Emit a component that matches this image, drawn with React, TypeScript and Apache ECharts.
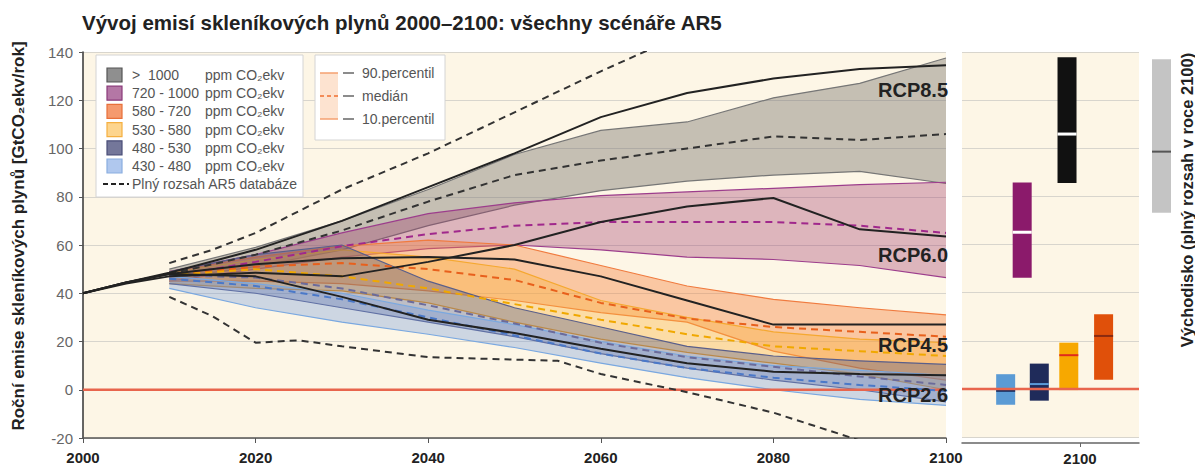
import React, { useEffect, useRef } from "react";
import * as echarts from "echarts";

// ---------- DATA ----------
const years = [2010, 2020, 2030, 2040, 2050, 2060, 2070, 2080, 2090, 2100];

const catNames = [">  1000", "720 - 1000", "580 - 720", "530 - 580", "480 - 530", "430 - 480"];
// 90th percentile
const upGray = [50, 59, 70, 83, 97.5, 107.5, 111, 121, 127, 137.5];
const upPurple = [49, 56, 65, 73, 77.5, 80.5, 82, 83.5, 85, 86];
const upOrange = [49, 55, 59.5, 62, 60, 51.5, 43, 37.5, 34, 31];
const upYellow = [48.5, 54, 58, 55, 50, 37, 30, 24, 21, 19.5];
const upNavy = [49, 56, 60, 45, 34, 26, 18, 14, 12, 10.5];
const upBlue = [47, 44, 40, 33, 27, 20, 14, 10, 8, 6];
// 10th percentile
const loGray = [46, 51, 58, 68, 76.5, 82.5, 86.5, 89, 90.5, 85.5];
const loPurple = [45, 50, 55, 58.5, 60, 58, 55, 54, 51.5, 46.5];
const loOrange = [45, 45, 44, 41, 37, 32, 28, 16, 9, 4];
const loYellow = [44, 42, 41, 36, 28, 21, 15.5, 11, 6.5, 0];
const loNavy = [44, 40, 34, 28, 22, 15, 9, 4, 0, -5];
const loBlue = [42, 34, 28, 23, 17.5, 11, 5, 0, -4, -6.5];
// median
const mdGray = [48, 56, 66, 78, 89, 95, 100, 105, 103.5, 106];
const mdPurple = [47, 53, 59.5, 64.5, 68, 69.5, 69.5, 69.5, 68, 65];
const mdOrange = [47.5, 51, 52.5, 50, 45.5, 36, 29.5, 26, 24, 22];
const mdYellow = [47.5, 50, 47, 42, 35.5, 29, 23, 18, 16, 14];
const mdNavy = [47.5, 46.5, 42, 35, 27.5, 19.5, 13.5, 9.5, 5.5, 2];
const mdBlue = [46, 43, 37.5, 30, 22.5, 15, 9, 5, 2, -0.5];

// RCP pathways
const rcpYears = [2000, 2005, 2010, 2020, 2030, 2040, 2050, 2060, 2070, 2080, 2090, 2100];
const rcp85 = [40, 44.5, 48.5, 58, 70, 84, 98, 113, 123, 129, 133, 134.5];
const rcp60 = [40, 44, 47, 48.5, 47, 53, 60, 69.5, 76, 79.5, 66.5, 63.5];
const rcp45 = [40, 44.5, 48, 52, 54.5, 55, 54, 47, 37, 27, 27, 27];
const rcp26 = [40, 44.5, 48, 47, 38.5, 29, 23.5, 17, 11, 7.5, 6.5, 6];
const rcpNames = ["RCP8.5", "RCP6.0", "RCP4.5", "RCP2.6"];

// Full range of AR5 database
const ar5UpYears = [2010, 2015, 2020, 2030, 2040, 2050, 2060, 2070];
const ar5Upper = [52.5, 58, 65, 83, 98, 115, 132, 148];
const ar5LoYears = [2010, 2015, 2020, 2025, 2030, 2040, 2050, 2055, 2060, 2070, 2080, 2090];
const ar5Lower = [38.5, 30.5, 19.5, 20.5, 18, 13.5, 12.5, 12, 6.5, -1, -9.5, -21];

// 2100 ranges (right panel): order light blue, navy, yellow, orange, purple, black
const r2100Low = [-6.6, -4.9, -0.5, 3.8, 46.2, 85.6];
const r2100High = [6.1, 10.5, 19.2, 31, 85.8, 137.8];
const r2100Median = [-0.8, 2, 14, 22, 65.1, 105.9];
const r2100Slot = [2087.4, 2093.1, 2098.1, 2104.0, 2090.2, 2097.8];
// baseline full range in 2100
const baseLow = [73.4];
const baseHigh = [137];
const baseMedian = [98.7];

const yTicksMin = -20;
const yTicksMax = 140;

const FONT = "'Liberation Sans', Arial, sans-serif";
const CREAM = "#fdf6e6";

export default function App() {
  const ref = useRef<HTMLDivElement>(null);
  useEffect(() => {
    if (!ref.current) return;
    const chart = echarts.init(ref.current, null, { renderer: "svg" });

    const band = (up: number[], lo: number[], fill: string, edge: string) => ({
      type: "custom",
      xAxisIndex: 0,
      yAxisIndex: 0,
      silent: true,
      data: [[years[0], up[0]]],
      renderItem: (_p: any, api: any) => {
        const u = years.map((yr, i) => api.coord([yr, up[i]]));
        const l = years.map((yr, i) => api.coord([yr, lo[i]]));
        return {
          type: "group",
          children: [
            { type: "polygon", shape: { points: u.concat(l.slice().reverse()) }, style: { fill, stroke: null } },
            { type: "polyline", shape: { points: u }, style: { stroke: edge, lineWidth: 1.2, fill: null } },
            { type: "polyline", shape: { points: l }, style: { stroke: edge, lineWidth: 1.2, fill: null } },
          ],
        };
      },
    });

    const line = (xs: number[], ys: number[], color: string, dashed: boolean, width = 2) => ({
      type: "line",
      xAxisIndex: 0,
      yAxisIndex: 0,
      data: xs.map((x, i) => [x, ys[i]]),
      symbol: "none",
      silent: true,
      lineStyle: { color, width, type: dashed ? [7, 5] : "solid" },
    });

    const barColors = ["#5b9bd5", "#1f2b5a", "#f7a800", "#e0500a", "#8b1a6b", "#111111"];
    const medColors = ["#1a2a5a", "#5a9ad8", "#e02a1c", "#8a2a10", "#ffffff", "#ffffff"];

    const legendRows = [
      { fill: "#8f8f8f", stroke: "#555555" },
      { fill: "#b477a5", stroke: "#8a3a7a" },
      { fill: "#f59a6e", stroke: "#e8703a" },
      { fill: "#fdd58e", stroke: "#f5b040" },
      { fill: "#74779a", stroke: "#4a4e78" },
      { fill: "#b0c8ee", stroke: "#8aaee0" },
    ];
    const legendEls: any[] = [
      { type: "rect", shape: { x: 96, y: 55, width: 207, height: 142 }, style: { fill: "#ffffff", stroke: "#d4d4d4", lineWidth: 1 }, z: 50 },
      { type: "rect", shape: { x: 315, y: 55, width: 130, height: 85 }, style: { fill: "#ffffff", stroke: "#d4d4d4", lineWidth: 1 }, z: 50 },
    ];
    legendRows.forEach((r, i) => {
      const cy = 75 + i * 18.2;
      legendEls.push({ type: "rect", shape: { x: 107, y: cy - 7, width: 15, height: 14 }, style: { fill: r.fill, stroke: r.stroke, lineWidth: 1.2 }, z: 51 });
      legendEls.push({ type: "text", x: 132, y: cy, style: { text: catNames[i], fill: "#555", font: `14px ${FONT}`, textVerticalAlign: "middle" }, z: 51 });
      legendEls.push({ type: "text", x: 205, y: cy, style: { text: "ppm CO₂ekv", fill: "#555", font: `14px ${FONT}`, textVerticalAlign: "middle" }, z: 51 });
    });
    legendEls.push({ type: "line", shape: { x1: 103, y1: 184, x2: 129, y2: 184 }, style: { stroke: "#222", lineWidth: 2, lineDash: [5, 3] }, z: 51 });
    legendEls.push({ type: "text", x: 132, y: 184, style: { text: "Plný rozsah AR5 databáze", fill: "#555", font: `14px ${FONT}`, textVerticalAlign: "middle" }, z: 51 });
    // percentile legend
    legendEls.push({ type: "rect", shape: { x: 320, y: 73, width: 18, height: 46 }, style: { fill: "#fde3d0" }, z: 51 });
    legendEls.push({ type: "line", shape: { x1: 320, y1: 73, x2: 338, y2: 73 }, style: { stroke: "#f5a070", lineWidth: 1.5 }, z: 52 });
    legendEls.push({ type: "line", shape: { x1: 320, y1: 119, x2: 338, y2: 119 }, style: { stroke: "#f5a070", lineWidth: 1.5 }, z: 52 });
    legendEls.push({ type: "line", shape: { x1: 320, y1: 96, x2: 338, y2: 96 }, style: { stroke: "#f07030", lineWidth: 1.5, lineDash: [4, 3] }, z: 52 });
    ["90.percentil", "medián", "10.percentil"].forEach((t, i) => {
      const cy = 73 + i * 23;
      legendEls.push({ type: "line", shape: { x1: 343, y1: cy, x2: 354, y2: cy }, style: { stroke: "#666", lineWidth: 1.5 }, z: 52 });
      legendEls.push({ type: "text", x: 362, y: cy, style: { text: t, fill: "#555", font: `14px ${FONT}`, textVerticalAlign: "middle" }, z: 52 });
    });

    const rcpLabelY = [90, 255, 345, 395];
    const rcpLabels = rcpNames.map((n, i) => ({
      type: "text",
      x: 878,
      y: rcpLabelY[i],
      style: { text: n, fill: "#222", font: `bold 20px ${FONT}`, textVerticalAlign: "middle" },
      z: 60,
    }));

    const yearFmt = (v: number) => String(v);

    const option: any = {
      animation: false,
      backgroundColor: "#ffffff",
      grid: [
        { left: 83, top: 52, width: 863, height: 386, show: true, backgroundColor: CREAM, borderWidth: 0 },
        { left: 962, top: 52, width: 177, height: 386, show: true, backgroundColor: CREAM, borderWidth: 0 },
        { left: 1152, top: 52, width: 19, height: 386, show: false },
      ],
      xAxis: [
        {
          gridIndex: 0, type: "value", min: 2000, max: 2100, interval: 20,
          axisLine: { show: true, onZero: false, lineStyle: { color: "#555", width: 1.5 } },
          axisTick: { show: true, length: 5, lineStyle: { color: "#555" } },
          axisLabel: { color: "#222", fontWeight: "bold", fontSize: 15, fontFamily: FONT, margin: 12, formatter: yearFmt },
          splitLine: { show: false },
        },
        {
          gridIndex: 1, type: "value", min: 2080, max: 2110, offset: 6,
          axisLine: { show: true, onZero: false, lineStyle: { color: "#666", width: 1.5 } },
          axisTick: { show: true, length: 4, customValues: [2100], lineStyle: { color: "#666" } },
          axisLabel: { customValues: [2100], color: "#222", fontWeight: "bold", fontSize: 15, fontFamily: FONT, margin: 8, formatter: yearFmt },
          splitLine: { show: false },
        },
        { gridIndex: 2, type: "value", min: 0, max: 1, show: false },
      ],
      yAxis: [
        {
          gridIndex: 0, type: "value", min: yTicksMin, max: yTicksMax, interval: 20,
          axisLine: { show: true, onZero: false, lineStyle: { color: "#333", width: 1.5 } },
          axisTick: { show: true, length: 4, lineStyle: { color: "#555" } },
          axisLabel: { color: "#666", fontSize: 15, fontFamily: FONT, margin: 10 },
          splitLine: { show: true, lineStyle: { color: "#d8d5cd", width: 1 } },
        },
        {
          gridIndex: 1, type: "value", min: yTicksMin, max: yTicksMax, interval: 20,
          axisLine: { show: false }, axisTick: { show: false }, axisLabel: { show: false },
          splitLine: { show: true, lineStyle: { color: "#d8d5cd", width: 1 } },
        },
        { gridIndex: 2, type: "value", min: yTicksMin, max: yTicksMax, show: false, splitLine: { show: false } },
      ],
      series: [
        { ...line([2000, 2100], [0, 0], "#e8654d", false, 2.5) },
        { ...line([2080, 2110], [0, 0], "#e8654d", false, 2.5), xAxisIndex: 1, yAxisIndex: 1 },
        band(upGray, loGray, "rgba(120,115,110,0.42)", "#767676"),
        band(upPurple, loPurple, "rgba(160,60,110,0.35)", "#9c3d8c"),
        band(upOrange, loOrange, "rgba(245,130,60,0.40)", "#f07b3f"),
        band(upYellow, loYellow, "rgba(250,180,60,0.38)", "#f5a830"),
        band(upNavy, loNavy, "rgba(60,70,130,0.32)", "#5a5f8a"),
        band(upBlue, loBlue, "rgba(110,150,220,0.33)", "#7aa8e0"),
        line(years, mdGray, "#333333", true),
        line(years, mdPurple, "#a0288c", true),
        line(years, mdOrange, "#e8601c", true),
        line(years, mdYellow, "#f0a800", true),
        line(years, mdNavy, "#6b6b9b", true),
        line(years, mdBlue, "#4a78c8", true),
        line(rcpYears, rcp85, "#222", false),
        line(rcpYears, rcp60, "#222", false),
        line(rcpYears, rcp45, "#222", false),
        line(rcpYears, rcp26, "#222", false),
        line(ar5UpYears, ar5Upper, "#333", true),
        line(ar5LoYears, ar5Lower, "#333", true),
        {
          type: "custom",
          xAxisIndex: 1,
          yAxisIndex: 1,
          silent: true,
          data: r2100Slot.map((s, i) => [s, r2100Low[i], r2100High[i], r2100Median[i]]),
          renderItem: (p: any, api: any) => {
            const x = api.value(0);
            const lo = api.coord([x, api.value(1)]);
            const hi = api.coord([x, api.value(2)]);
            const md = api.coord([x, api.value(3)]);
            const w = 19;
            return {
              type: "group",
              children: [
                { type: "rect", shape: { x: hi[0] - w / 2, y: hi[1], width: w, height: lo[1] - hi[1] }, style: { fill: barColors[p.dataIndex] } },
                { type: "line", shape: { x1: hi[0] - w / 2, y1: md[1], x2: hi[0] + w / 2, y2: md[1] }, style: { stroke: medColors[p.dataIndex], lineWidth: p.dataIndex >= 4 ? 3 : 2 } },
              ],
            };
          },
        },
        {
          type: "custom",
          xAxisIndex: 2,
          yAxisIndex: 2,
          silent: true,
          data: baseLow.map((l, i) => [0.5, l, baseHigh[i], baseMedian[i]]),
          renderItem: (_p: any, api: any) => {
            const x = api.value(0);
            const lo = api.coord([x, api.value(1)]);
            const hi = api.coord([x, api.value(2)]);
            const md = api.coord([x, api.value(3)]);
            const w = 19;
            return {
              type: "group",
              children: [
                { type: "rect", shape: { x: hi[0] - w / 2, y: hi[1], width: w, height: lo[1] - hi[1] }, style: { fill: "#c4c4c4" } },
                { type: "line", shape: { x1: hi[0] - w / 2, y1: md[1], x2: hi[0] + w / 2, y2: md[1] }, style: { stroke: "#555", lineWidth: 2 } },
              ],
            };
          },
        },
      ],
      graphic: [
        {
          type: "text", x: 82, y: 22,
          style: { text: "Vývoj emisí skleníkových plynů 2000–2100: všechny scénáře AR5", fill: "#222", font: `bold 20.5px ${FONT}`, textVerticalAlign: "middle" },
        },
        {
          type: "text", x: 18, y: 236, rotation: Math.PI / 2,
          style: { text: "Roční emise skleníkových plynů [GtCO₂ekv/rok]", fill: "#222", font: `bold 17px ${FONT}`, textAlign: "center", textVerticalAlign: "middle" },
        },
        {
          type: "text", x: 1187, y: 200, rotation: Math.PI / 2,
          style: { text: "Východisko (plný rozsah v roce 2100)", fill: "#222", font: `bold 16.5px ${FONT}`, textAlign: "center", textVerticalAlign: "middle" },
        },
        ...rcpLabels,
        ...legendEls,
      ],
    };
    chart.setOption(option);
    return () => chart.dispose();
  }, []);
  return <div ref={ref} style={{ position: "absolute", left: 0, top: 0, width: 1195, height: 466 }} />;
}
